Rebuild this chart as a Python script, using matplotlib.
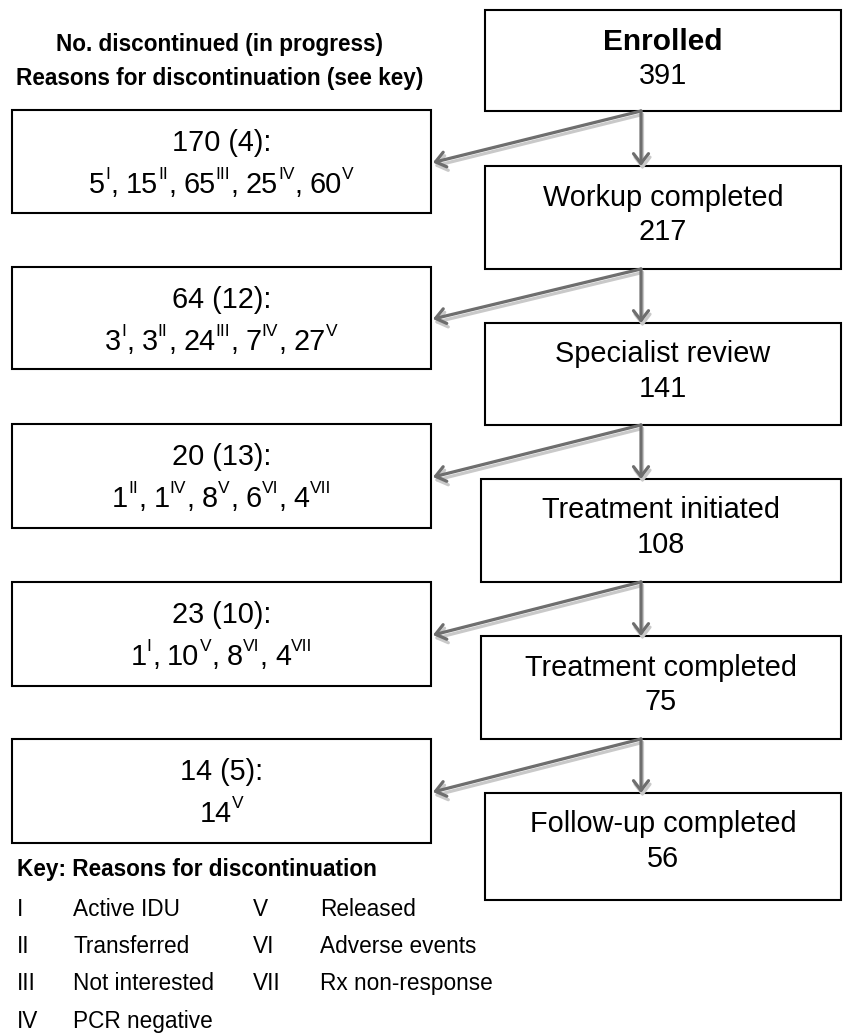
import matplotlib.pyplot as plt
from matplotlib.patches import Rectangle, FancyArrowPatch, ArrowStyle

plt.rcParams['font.family'] = ['Liberation Sans', 'DejaVu Sans']

# Flow stages (right column)
stage_labels = ["Enrolled", "Workup completed", "Specialist review",
                "Treatment initiated", "Treatment completed", "Follow-up completed"]
stage_counts = [391, 217, 141, 108, 75, 56]

# Discontinued at each step (left column)
drop_counts = [170, 64, 20, 23, 14]
drop_in_progress = [4, 12, 13, 10, 5]
reason_counts = [[5, 15, 65, 25, 60],
                 [3, 3, 24, 7, 27],
                 [1, 1, 8, 6, 4],
                 [1, 10, 8, 4],
                 [14]]
reason_codes = [["I", "II", "III", "IV", "V"],
                ["I", "II", "III", "IV", "V"],
                ["II", "IV", "V", "VI", "VII"],
                ["I", "V", "VI", "VII"],
                ["V"]]

# Key
key_codes = ["I", "II", "III", "IV", "V", "VI", "VII"]
key_labels = ["Active IDU", "Transferred", "Not interested", "PCR negative",
              "Released", "Adverse events", "Rx non-response"]

# Layout in pixels (y down)
W, H = 843, 1033
right_x0 = [485, 485, 485, 481, 481, 485]
right_x1 = 841
right_tops = [10, 166, 323, 479, 636, 793]
right_bottoms = [111, 269, 425, 582, 739, 900]
left_x0, left_x1 = 12, 431
left_tops = [110, 267, 424, 582, 739]
left_bottoms = [213, 369, 528, 686, 843]

BOX_FS = 20.8
SUP_FS = 12.5
SUP_RAISE = 14
SMALL_FS = 16.3
DARK = "#6e6e6e"
LIGHT = "#c9c9c9"

fig = plt.figure(figsize=(W / 100, H / 100), dpi=100)
ax = fig.add_axes([0, 0, 1, 1])
ax.set_xlim(0, W)
ax.set_ylim(H, 0)
ax.axis("off")
renderer = fig.canvas.get_renderer()


def text_width(s, size, weight="normal"):
    t = ax.text(0, 0, s, fontsize=size, fontweight=weight)
    w = t.get_window_extent(renderer).width
    t.remove()
    return w


def draw_reason_line(counts, codes, cx, baseline):
    # pieces: (text, is_superscript, gap after)
    pieces = []
    for i, (c, r) in enumerate(zip(counts, codes)):
        pieces.append((str(c), False, 0.2))
        if i < len(counts) - 1:
            pieces.append((r, True, 0.5))
            pieces.append((",", False, 7))
        else:
            pieces.append((r, True, 0))
    widths = [text_width(s, SUP_FS if sup else BOX_FS) for s, sup, g in pieces]
    total = sum(widths) + sum(g for _, _, g in pieces)
    x = cx - total / 2
    for (s, sup, g), w in zip(pieces, widths):
        ax.text(x, baseline - (SUP_RAISE if sup else 0), s,
                fontsize=SUP_FS if sup else BOX_FS, ha="left", va="baseline")
        x += w + g


def draw_arrow(p0, p1, color, offset=(0, 0)):
    a = FancyArrowPatch((p0[0] + offset[0], p0[1] + offset[1]),
                        (p1[0] + offset[0], p1[1] + offset[1]),
                        arrowstyle=ArrowStyle("->", head_length=0.35, head_width=0.27),
                        mutation_scale=20, color=color, lw=2.3,
                        shrinkA=0, shrinkB=0, zorder=3)
    ax.add_patch(a)


# Right column boxes
for i, (lab, n) in enumerate(zip(stage_labels, stage_counts)):
    top, bot = right_tops[i], right_bottoms[i]
    ax.add_patch(Rectangle((right_x0[i], top), right_x1 - right_x0[i], bot - top,
                           fill=False, ec="black", lw=1.5, zorder=2))
    cx = (right_x0[i] + right_x1) / 2
    ax.text(cx, top + 39.5, lab, fontsize=21.5 if i == 0 else BOX_FS,
            ha="center", va="baseline", fontweight="bold" if i == 0 else "normal")
    ax.text(cx, top + 74, str(n), fontsize=BOX_FS, ha="center", va="baseline")

# Left column boxes
for i in range(len(drop_counts)):
    top, bot = left_tops[i], left_bottoms[i]
    ax.add_patch(Rectangle((left_x0, top), left_x1 - left_x0, bot - top,
                           fill=False, ec="black", lw=1.5, zorder=2))
    cx = (left_x0 + left_x1) / 2
    ax.text(cx, top + 41, f"{drop_counts[i]} ({drop_in_progress[i]}):",
            fontsize=BOX_FS, ha="center", va="baseline")
    draw_reason_line(reason_counts[i], reason_codes[i], cx, top + 83)

# Arrows
ARROW_X = 641
for i in range(len(drop_counts)):
    start = (ARROW_X, right_bottoms[i])
    down = (ARROW_X, right_tops[i + 1])
    side = (left_x1 + 2, (left_tops[i] + left_bottoms[i]) / 2 + 1)
    draw_arrow(start, down, LIGHT, offset=(1.5, 3.5))
    draw_arrow(start, side, LIGHT, offset=(1.5, 3.5))
    draw_arrow(start, down, DARK)
    draw_arrow(start, side, DARK)

# Header
ax.text(220, 50.5, "No. discontinued (in progress)", fontsize=SMALL_FS,
        fontweight="bold", ha="center", va="baseline")
ax.text(220, 84.5, "Reasons for discontinuation (see key)", fontsize=SMALL_FS,
        fontweight="bold", ha="center", va="baseline")

# Key
ax.text(17, 876, "Key: Reasons for discontinuation", fontsize=SMALL_FS,
        fontweight="bold", ha="left", va="baseline")
key_rows = [916, 953, 990, 1028]
for i, (code, lab) in enumerate(zip(key_codes, key_labels)):
    col = 0 if i < 4 else 1
    row = i if i < 4 else i - 4
    xc, xl = (17, 73) if col == 0 else (253, 320)
    ax.text(xc, key_rows[row], code, fontsize=SMALL_FS, ha="left", va="baseline")
    ax.text(xl, key_rows[row], lab, fontsize=SMALL_FS, ha="left", va="baseline")

fig.savefig("out.png", dpi=100)
